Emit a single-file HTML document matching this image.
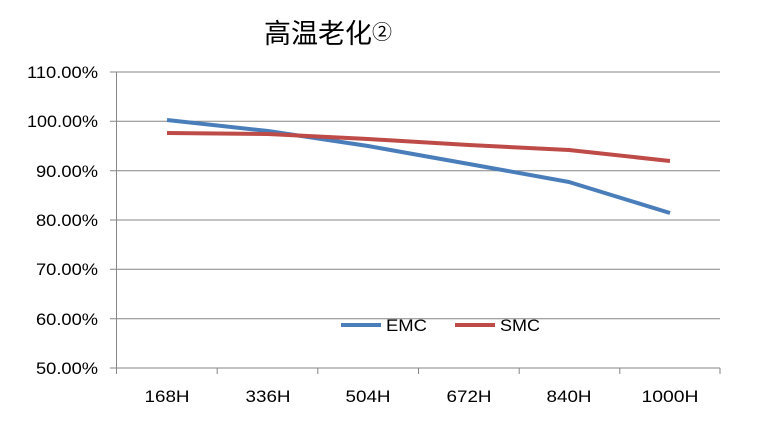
<!DOCTYPE html>
<html><head><meta charset="utf-8"><style>
body{margin:0;background:#fff;}
svg text{font-family:"Liberation Sans","Noto Sans CJK SC",sans-serif;}
</style></head><body>
<svg width="758" height="434" xmlns="http://www.w3.org/2000/svg">
<rect width="758" height="434" fill="#fff"/>
<text x="264" y="43" font-size="27" font-family="'Noto Sans CJK SC',sans-serif">高温老化<tspan font-size="20" dy="-4">②</tspan></text>
<g stroke="#868686" stroke-width="1">
<line x1="110" y1="72" x2="720" y2="72"/>
<line x1="110" y1="121.3" x2="720" y2="121.3"/>
<line x1="110" y1="170.7" x2="720" y2="170.7"/>
<line x1="110" y1="220" x2="720" y2="220"/>
<line x1="110" y1="269.3" x2="720" y2="269.3"/>
<line x1="110" y1="318.7" x2="720" y2="318.7"/>
<line x1="110" y1="368" x2="720" y2="368"/>
<line x1="116.5" y1="72" x2="116.5" y2="368"/>
<line x1="116.5" y1="368" x2="116.5" y2="374"/>
<line x1="217.2" y1="368" x2="217.2" y2="374"/>
<line x1="317.8" y1="368" x2="317.8" y2="374"/>
<line x1="418.5" y1="368" x2="418.5" y2="374"/>
<line x1="519.2" y1="368" x2="519.2" y2="374"/>
<line x1="619.8" y1="368" x2="619.8" y2="374"/>
<line x1="720" y1="368" x2="720" y2="374"/>
</g>
<g font-size="17" text-anchor="end" fill="#000">
<text x="98" y="78" textLength="71" lengthAdjust="spacingAndGlyphs">110.00%</text>
<text x="98" y="127" textLength="71" lengthAdjust="spacingAndGlyphs">100.00%</text>
<text x="98" y="177" textLength="62" lengthAdjust="spacingAndGlyphs">90.00%</text>
<text x="98" y="226" textLength="62" lengthAdjust="spacingAndGlyphs">80.00%</text>
<text x="98" y="275" textLength="62" lengthAdjust="spacingAndGlyphs">70.00%</text>
<text x="98" y="325" textLength="62" lengthAdjust="spacingAndGlyphs">60.00%</text>
<text x="98" y="374" textLength="62" lengthAdjust="spacingAndGlyphs">50.00%</text>
</g>
<g font-size="17" text-anchor="middle" fill="#000">
<text x="167" y="402" textLength="45" lengthAdjust="spacingAndGlyphs">168H</text>
<text x="268" y="402" textLength="45" lengthAdjust="spacingAndGlyphs">336H</text>
<text x="368" y="402" textLength="45" lengthAdjust="spacingAndGlyphs">504H</text>
<text x="469" y="402" textLength="45" lengthAdjust="spacingAndGlyphs">672H</text>
<text x="569" y="402" textLength="45" lengthAdjust="spacingAndGlyphs">840H</text>
<text x="670" y="402" textLength="57" lengthAdjust="spacingAndGlyphs">1000H</text>
</g>
<polyline fill="none" stroke="#4a7ebb" stroke-width="4" stroke-linejoin="round" points="167,120 268,131 368,146 469,164 569,182 670,213"/>
<polyline fill="none" stroke="#be4b48" stroke-width="4" stroke-linejoin="round" points="167,133 268,134 368,139 469,145 569,150 670,161"/>
<line x1="341" y1="325" x2="381" y2="325" stroke="#4a7ebb" stroke-width="4"/>
<text x="386" y="331" font-size="17" textLength="41" lengthAdjust="spacingAndGlyphs">EMC</text>
<line x1="455" y1="325" x2="495" y2="325" stroke="#be4b48" stroke-width="4"/>
<text x="500" y="331" font-size="17" textLength="40" lengthAdjust="spacingAndGlyphs">SMC</text>
</svg>
</body></html>
